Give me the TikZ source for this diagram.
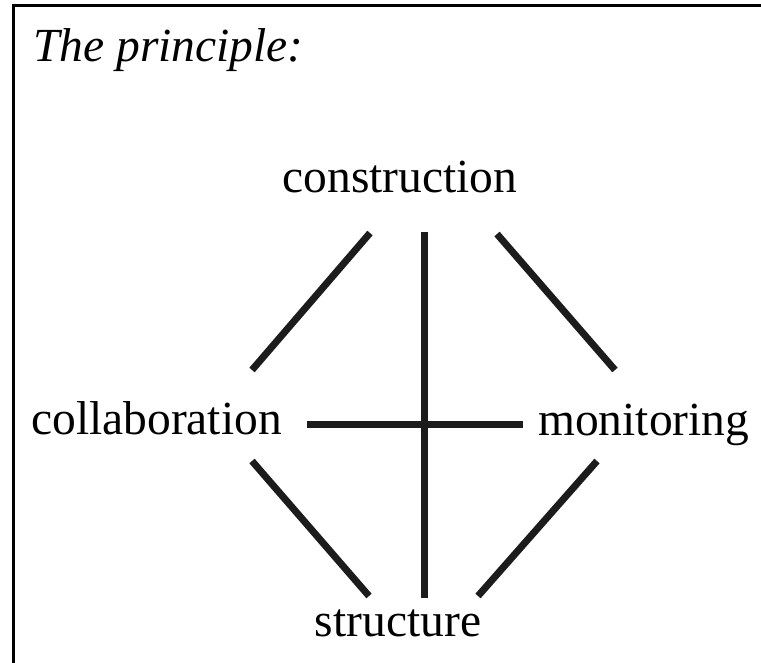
\documentclass[tikz,border=0pt]{standalone}
\usepackage{fontspec}
\setmainfont{Liberation Serif}
\begin{document}
\begin{tikzpicture}[x=1pt,y=-1pt,
  label/.style={inner sep=0pt,font=\fontsize{47.5}{57}\selectfont},
  link/.style={line width=7pt,draw={rgb,255:red,28;green,28;blue,28}}]
\useasboundingbox (0,0) rectangle (761,663);
% open frame: only the top and left edges fall inside the page
\draw[line width=3pt] (13,670) -- (13,6) -- (770,6);
% title
\node[label,anchor=base west,font=\fontsize{47.5}{57}\selectfont\itshape] (title) at (33,62) {The principle:};
% the four terms
\node[label,anchor=base] (construction) at (400,193) {construction};
\node[label,anchor=base west] (collaboration) at (31,434) {collaboration};
\node[label,anchor=base west] (monitoring) at (538,435) {monitoring};
\node[label,anchor=base] (structure) at (398,636) {structure};
% free ends of the connecting bars
\coordinate (ulA) at (252,370); \coordinate (ulB) at (370,233);
\coordinate (urA) at (497,234); \coordinate (urB) at (615,370);
\coordinate (llA) at (252,461); \coordinate (llB) at (369,596);
\coordinate (lrA) at (597,461); \coordinate (lrB) at (478,596);
\coordinate (vT) at (424,232);  \coordinate (vB) at (424,598);
\coordinate (hL) at (307,424);  \coordinate (hR) at (523,424);
\draw[link] (ulA) -- (ulB);
\draw[link] (urA) -- (urB);
\draw[link] (llA) -- (llB);
\draw[link] (lrA) -- (lrB);
\draw[link] (vT) -- (vB);
\draw[link] (hL) -- (hR);
\end{tikzpicture}
\end{document}
